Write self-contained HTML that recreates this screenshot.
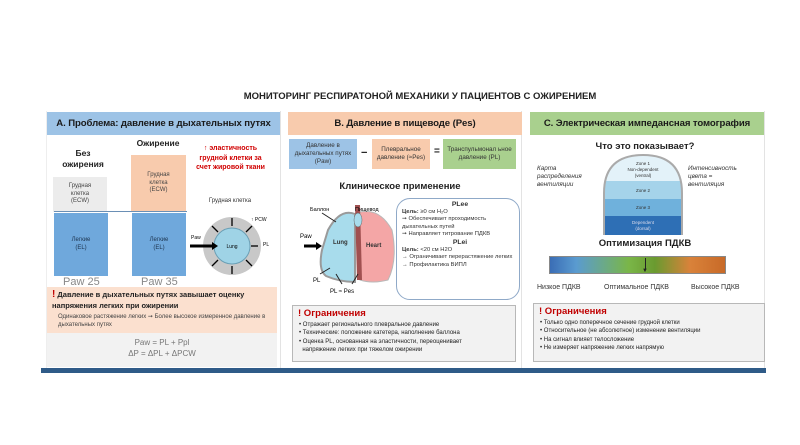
<!DOCTYPE html>
<html><head><meta charset="utf-8"><style>
*{margin:0;padding:0;box-sizing:border-box}
body{width:800px;height:445px;background:#fff;position:relative;overflow:hidden;font-family:"Liberation Sans","DejaVu Sans",sans-serif;color:#222}
.a{position:absolute}
.c{text-align:center}
.hdr{position:absolute;height:23px;font-size:9.6px;font-weight:bold;display:flex;align-items:center;justify-content:center;color:#1a1a1a;white-space:nowrap;letter-spacing:-0.1px}
.sm{font-size:6px;line-height:7.5px}
.box{position:absolute;display:flex;align-items:center;justify-content:center;text-align:center}
.lim{position:absolute;background:#f2f2f2;border:1px solid #b8b8b8}
.lim b.t{color:#c00000;font-size:9.5px;display:block;margin:2px 0 2px 5px}
.lim ul{list-style:none;font-size:6px;line-height:8.3px;margin-left:6px}
.lim li:before{content:"• ";}
</style></head><body>
<div class="a c" style="left:200px;top:91px;width:440px;font-size:9.5px;font-weight:bold">МОНИТОРИНГ РЕСПИРАТОНОЙ МЕХАНИКИ У ПАЦИЕНТОВ С ОЖИРЕНИЕМ</div>

<div class="a" style="left:46px;top:111px;width:235px;height:257px;border-right:1px solid #e3e3e3;border-left:1px solid #eee"></div>
<div class="a" style="left:287px;top:111px;width:235px;height:257px;border-right:1px solid #e3e3e3"></div>
<div class="a" style="left:529px;top:111px;width:236px;height:257px;border-right:1px solid #e3e3e3"></div>

<!-- Panel A -->
<div class="hdr" style="left:47px;top:112px;width:233px;background:#9dc3e6">A. Проблема: давление в дыхательных путях</div>
<div class="a c" style="left:56px;top:148px;width:54px;font-size:8.5px;font-weight:bold;line-height:11px">Без<br>ожирения</div>
<div class="a c" style="left:128px;top:138px;width:60px;font-size:8.5px;font-weight:bold">Ожирение</div>
<div class="box sm" style="left:53px;top:177px;width:54px;height:35px;background:#ececec;color:#444">Грудная<br>клетка<br>(ECW)</div>
<div class="box sm" style="left:131px;top:155px;width:55px;height:57px;background:#f8cbad;color:#444">Грудная<br>клетка<br>(ECW)</div>
<div class="a" style="left:54px;top:211px;width:133px;height:1px;background:#6a8fb5"></div>
<div class="box sm" style="left:54px;top:213px;width:54px;height:63px;background:#6fa8dc;color:#1d3550">Легкие<br>(EL)</div>
<div class="box sm" style="left:132px;top:213px;width:54px;height:63px;background:#6fa8dc;color:#1d3550">Легкие<br>(EL)</div>
<div class="a" style="left:63px;top:276px;font-size:11px;color:#888">Paw 25</div>
<div class="a" style="left:141px;top:276px;font-size:11px;color:#888">Paw 35</div>
<div class="a c" style="left:193px;top:144px;width:75px;font-size:7px;font-weight:bold;color:#d00000;line-height:9.5px">↑ эластичность грудной клетки за счет жировой ткани</div>
<div class="a c" style="left:195px;top:198px;width:70px;font-size:6px;color:#333">Грудная клетка</div>
<svg class="a" style="left:188px;top:210px" width="90" height="72">
<circle cx="44" cy="36" r="29" fill="#c8c8c8"/>
<circle cx="44" cy="36" r="18" fill="#9fd3e6" stroke="#6a9fb5"/>
<text x="44" y="38" font-size="5" text-anchor="middle" font-family="Liberation Sans">Lung</text>
<line x1="2" y1="36" x2="24" y2="36" stroke="#000" stroke-width="3"/>
<polygon points="24,32 30,36 24,40" fill="#000"/>
<text x="3" y="29" font-size="5" font-family="Liberation Sans">Paw</text>
<text x="75" y="36" font-size="5" font-family="Liberation Sans">PL</text>
<text x="63" y="11" font-size="5" font-family="Liberation Sans">↑ PCW</text>
<g stroke="#000" stroke-width="1.3"><line x1="44" y1="8" x2="44" y2="16"/><line x1="44" y1="64" x2="44" y2="56"/><line x1="70" y1="36" x2="63" y2="36"/><line x1="24" y1="16" x2="30" y2="22"/><line x1="64" y1="16" x2="58" y2="22"/><line x1="24" y1="56" x2="30" y2="50"/><line x1="64" y1="56" x2="58" y2="50"/></g>
</svg>
<div class="a" style="left:47px;top:287px;width:230px;height:46px;background:#fbe0cf"></div>
<div class="a" style="left:52px;top:289px;width:225px;font-size:7.5px;font-weight:bold;line-height:11px"><span style="color:#c00000;font-size:10px">!</span> Давление в дыхательных путях завышает оценку напряжения легких при ожирении</div>
<div class="a" style="left:58px;top:314px;width:215px;font-size:6px;line-height:7.5px;color:#444">Одинаковое растяжение легких ➞ Более высокое измеренное давление в дыхательных путях</div>
<div class="a" style="left:47px;top:333px;width:230px;height:34px;background:#f2f2f2"></div>
<div class="a c" style="left:47px;top:337px;width:230px;font-size:8px;color:#777;line-height:11px">Paw = PL + Ppl<br>ΔP = ΔPL + ΔPCW</div>

<!-- Panel B -->
<div class="hdr" style="left:288px;top:112px;width:234px;background:#f8cbad">B. Давление в пищеводе (Pes)</div>
<div class="box" style="left:289px;top:139px;width:68px;height:30px;background:#9dc3e6;color:#333;font-size:6.3px;line-height:8px">Давление в дыхательных путях (Paw)</div>
<div class="a" style="left:361px;top:147px;font-size:11px;font-weight:bold">−</div>
<div class="box" style="left:372px;top:139px;width:58px;height:30px;background:#f8cbad;color:#333;font-size:6.3px;line-height:8px">Плевральное давление (≈Pes)</div>
<div class="a" style="left:434px;top:146px;font-size:10px;font-weight:bold">=</div>
<div class="box" style="left:443px;top:139px;width:73px;height:30px;background:#a9d08e;color:#333;font-size:6.3px;line-height:8px">Транспульмонал ьное давление (PL)</div>
<div class="a c" style="left:330px;top:181px;width:140px;font-size:9.5px;font-weight:bold">Клиническое применение</div>
<svg class="a" style="left:300px;top:200px" width="100" height="95">
<path d="M28 30 Q40 8 55 14 L55 82 Q40 82 26 76 Q18 70 22 50 Z" fill="#a8dcec" stroke="#9a9a9a" stroke-width="2"/>
<path d="M60 12 Q80 8 92 30 Q98 60 88 80 Q72 84 60 80 Z" fill="#f4a6a6" stroke="#b9b9b9" stroke-width="1"/>
<path d="M55 5 L60 5 L62 80 L57 80 Z" fill="#a05050"/>
<ellipse cx="58" cy="20" rx="4" ry="7" fill="#a8dcec" stroke="#666" stroke-width=".5"/>
<text x="33" y="44" font-size="6" font-weight="bold" fill="#333" font-family="Liberation Sans">Lung</text>
<text x="66" y="47" font-size="6" font-weight="bold" fill="#333" font-family="Liberation Sans">Heart</text>
<text x="10" y="11" font-size="5.5" font-family="Liberation Sans">Баллон</text>
<text x="55" y="11" font-size="5.5" font-family="Liberation Sans">Пищевод</text>
<line x1="22" y1="13" x2="36" y2="22" stroke="#222"/>
<text x="0" y="38" font-size="6" font-family="Liberation Sans">Paw</text>
<line x1="4" y1="46" x2="16" y2="46" stroke="#000" stroke-width="3"/><polygon points="16,42 22,46 16,50" fill="#000"/>
<text x="13" y="82" font-size="6" font-family="Liberation Sans">PL</text>
<line x1="20" y1="74" x2="30" y2="68" stroke="#222"/>
<text x="30" y="93" font-size="6" font-family="Liberation Sans">PL ≈ Pes</text>
<line x1="42" y1="84" x2="36" y2="74" stroke="#222"/><line x1="52" y1="84" x2="58" y2="74" stroke="#222"/>
</svg>
<div class="a" style="left:396px;top:198px;width:124px;height:102px;border:1px solid #8fa9c8;border-radius:14px;background:#fff"></div>
<div class="a" style="left:402px;top:201px;width:116px;font-size:5.8px;line-height:7.6px;color:#333">
<div class="c" style="font-weight:bold;font-size:6.8px">PLee</div>
<b>Цель:</b> ≥0 см H₂O<br>➞ Обеспечивает проходимость дыхательных путей<br>➞ Направляет титрование ПДКВ
<div class="c" style="font-weight:bold;font-size:6.8px">PLei</div>
<b>Цель:</b> &lt;20 см H2O<br>→ Ограничивает перерастяжение легких<br>→ Профилактика ВИПЛ</div>
<div class="lim" style="left:292px;top:305px;width:224px;height:57px">
<b class="t">! Ограничения</b>
<ul><li>Отражает регионального плевральное давление</li><li>Технические: положение катетера, наполнение баллона</li><li>Оценка PL, основанная на эластичности, переоценивает<br>&nbsp;&nbsp;напряжение легких при тяжелом ожирении</li></ul></div>

<!-- Panel C -->
<div class="hdr" style="left:530px;top:112px;width:234px;background:#a9d08e">C. Электрическая импедансная томография</div>
<div class="a c" style="left:570px;top:141px;width:150px;font-size:9.5px;font-weight:bold">Что это показывает?</div>
<div class="a" style="left:537px;top:165px;font-size:6.3px;font-style:italic;line-height:8px;color:#333">Карта<br>распределения<br>вентиляции</div>
<div class="a" style="left:688px;top:165px;font-size:6.3px;font-style:italic;line-height:8px;color:#333">Интенсивность<br>цвета =<br>вентиляция</div>
<svg class="a" style="left:600px;top:153px" width="86" height="84">
<defs><clipPath id="d"><path d="M4 82 L4 40 Q4 2 43 2 Q82 2 82 40 L82 82 Z"/></clipPath></defs>
<g clip-path="url(#d)">
<rect x="0" y="0" width="86" height="28" fill="#e3f2f9"/>
<rect x="0" y="28" width="86" height="18" fill="#a5d3ea"/>
<rect x="0" y="46" width="86" height="17" fill="#6fb1dc"/>
<rect x="0" y="63" width="86" height="22" fill="#2e6fb5"/>
</g>
<path d="M4 82 L4 40 Q4 2 43 2 Q82 2 82 40 L82 82" fill="none" stroke="#aaa" stroke-width="2"/>
<g font-family="Liberation Sans" font-size="4.5" text-anchor="middle" fill="#333">
<text x="43" y="12">Zone 1</text><text x="43" y="18">Non-dependent</text><text x="43" y="24">(ventral)</text>
<text x="43" y="39">Zone 2</text><text x="43" y="56">Zone 3</text>
<text x="43" y="71" fill="#dde">Dependent</text><text x="43" y="77" fill="#dde">(dorsal)</text></g>
</svg>
<div class="a c" style="left:570px;top:238px;width:150px;font-size:9.5px;font-weight:bold">Оптимизация ПДКВ</div>
<div class="a" style="left:549px;top:256px;width:177px;height:18px;border:1px solid #888;background:linear-gradient(90deg,#3a6db5 0%,#5a9bd0 15%,#7ab648 45%,#6a9a30 60%,#d9823a 80%,#c86a28 100%)"></div>
<div class="a" style="left:645px;top:258px;width:1px;height:12px;background:#222"></div>
<div class="a" style="left:642px;top:268px;font-size:6px">▼</div>
<div class="a" style="left:537px;top:284px;font-size:7px;color:#333">Низкое ПДКВ</div>
<div class="a" style="left:604px;top:284px;font-size:7px;color:#333">Оптимальное ПДКВ</div>
<div class="a" style="left:691px;top:284px;font-size:7px;color:#333">Высокое ПДКВ</div>
<div class="lim" style="left:533px;top:303px;width:232px;height:59px">
<b class="t">! Ограничения</b>
<ul><li>Только одно поперечное сечение грудной клетки</li><li>Относительное (не абсолютное) изменение вентиляции</li><li>На сигнал влияет телосложение</li><li>Не измеряет напряжение легких напрямую</li></ul></div>

<div class="a" style="left:41px;top:368px;width:725px;height:5px;background:#2f5b88"></div>
</body></html>
